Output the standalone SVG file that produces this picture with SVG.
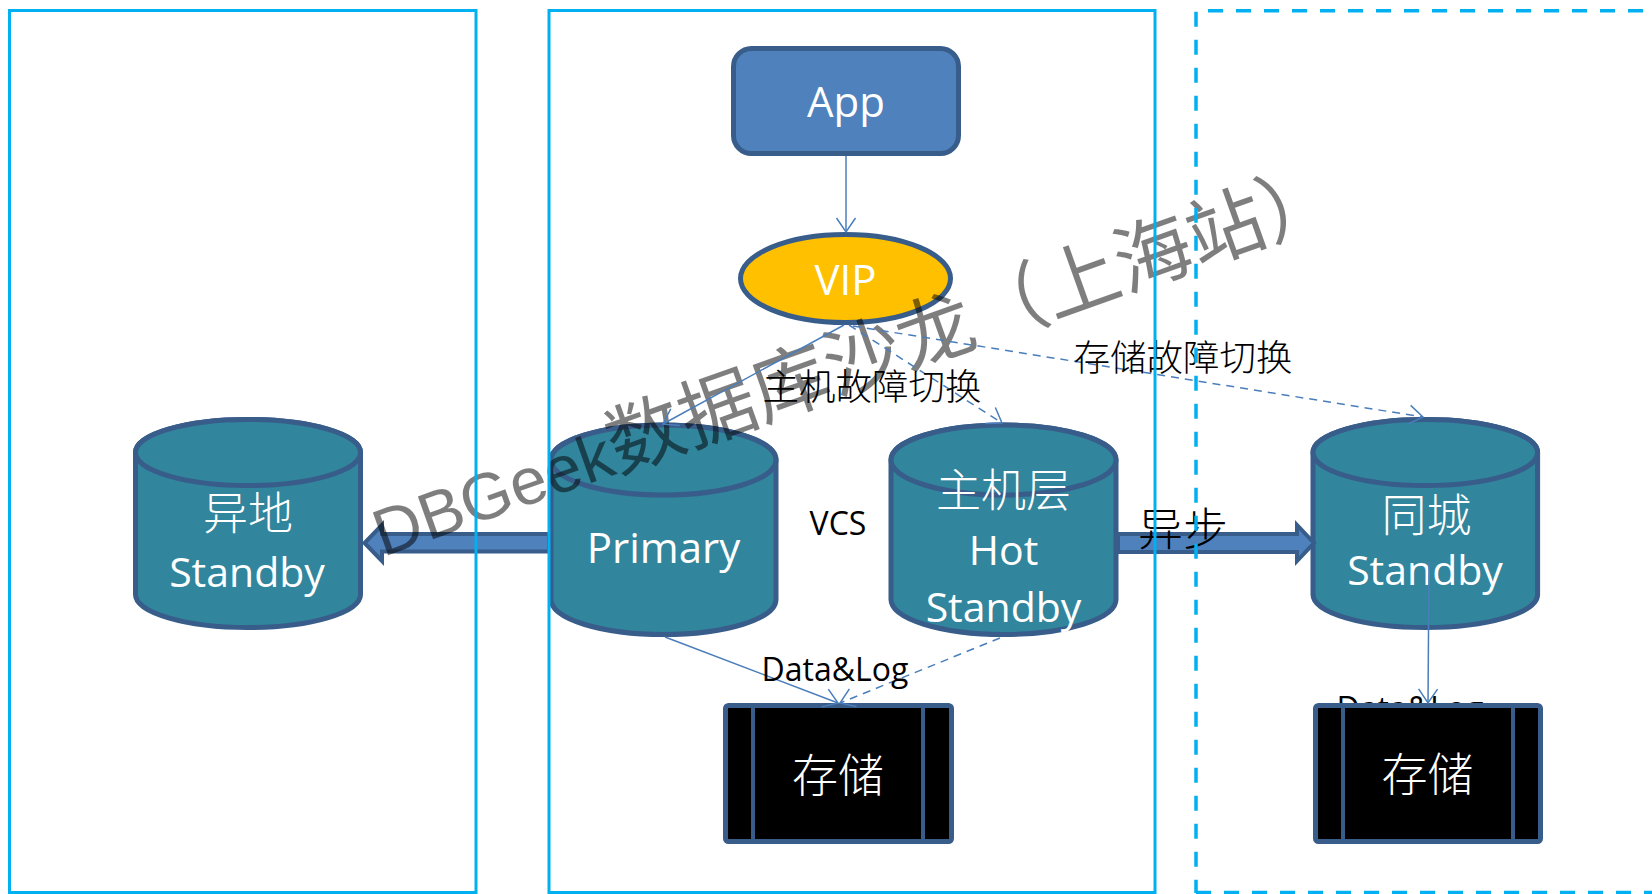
<svg xmlns="http://www.w3.org/2000/svg" width="1652" height="894" viewBox="0 0 1652 894">
  <defs>
    <style>
      .zone { fill: none; stroke: #00B0F0; stroke-width: 3; }
      .zone-dash { fill: none; stroke: #00B0F0; stroke-width: 3.5; stroke-dasharray: 15 13; }
      .cyl { fill: #31859C; stroke: #385D8A; stroke-width: 5; }
      .block { fill: #4F81BD; stroke: #385D8A; stroke-width: 4; stroke-linejoin: miter; }
      .store { fill: #000; stroke: #385D8A; stroke-width: 5; }
      .divider { stroke: #385D8A; stroke-width: 4; }
      .en { font-family: "Open Sans", "Noto Sans", sans-serif; text-anchor: middle; }
      .cjk { font-family: "Noto Sans CJK SC", "Noto Sans", sans-serif; font-weight: 300; text-anchor: middle; }
      .white { fill: #FFFFFF; }
      .black { fill: #000000; }
      .conn { fill: none; stroke: #4A7EBB; stroke-width: 1.5; }
      .dashed { stroke-dasharray: 8 6; }
    </style>
    <marker id="open-arrow" viewBox="-16 -11 18 22" refX="0" refY="0" markerWidth="18" markerHeight="22" markerUnits="userSpaceOnUse" orient="auto">
      <path d="M-14,-9.5 L0,0 L-14,9.5" fill="none" stroke="#4A7EBB" stroke-width="1.5"/>
    </marker>
  </defs>

  <rect width="1652" height="894" fill="#FFFFFF"/>

  <!-- database cylinders -->
  <g id="remote-standby">
    <path class="cyl" d="M135.5,452.5 A112.5,33 0 0 1 360.5,452.5 L360.5,594.5 A112.5,33 0 0 1 135.5,594.5 Z"/>
    <ellipse class="cyl" cx="248" cy="452.5" rx="112.5" ry="33"/>
    <text class="cjk white" x="248" y="530" font-size="45">异地</text>
    <text class="en white" x="247" y="587" font-size="41">Standby</text>
  </g>

  <g id="primary">
    <path class="cyl" d="M551,460 A112.5,35 0 0 1 776,460 L776,599.5 A112.5,35 0 0 1 551,599.5 Z"/>
    <ellipse class="cyl" cx="663.5" cy="460" rx="112.5" ry="35"/>
    <text class="en white" x="663.5" y="563" font-size="42">Primary</text>
  </g>

  <g id="hot-standby">
    <path class="cyl" d="M891,460 A112.5,35 0 0 1 1116,460 L1116,599.5 A112.5,35 0 0 1 891,599.5 Z"/>
    <ellipse class="cyl" cx="1003.5" cy="460" rx="112.5" ry="35"/>
    <text class="cjk white" x="1003.5" y="507" font-size="45">主机层</text>
    <text class="en white" x="1003.5" y="565" font-size="41">Hot</text>
    <text class="en white" x="1003.5" y="622" font-size="41">Standby</text>
  </g>

  <g id="local-standby">
    <path class="cyl" d="M1313,452.5 A112.3,33 0 0 1 1537.6,452.5 L1537.6,594.5 A112.3,33 0 0 1 1313,594.5 Z"/>
    <ellipse class="cyl" cx="1425.3" cy="452.5" rx="112.3" ry="33"/>
    <text class="cjk white" x="1426.5" y="532" font-size="45">同城</text>
    <text class="en white" x="1425" y="585" font-size="41">Standby</text>
  </g>

  <!-- replication block arrows -->
  <g id="async-remote">
    <path class="block" d="M549,534 H382 V525 L364.5,543 L382,561 V551.5 H549 Z"/>
  </g>
  <g id="async-local">
    <path class="block" d="M1118,534 H1297 V525 L1314,543 L1297,561 V552 H1118 Z"/>
  </g>

  <!-- application and virtual IP -->
  <g id="app">
    <rect x="733.5" y="48.5" width="225" height="105" rx="18" fill="#4F81BD" stroke="#385D8A" stroke-width="5"/>
    <text class="en white" x="846" y="117" font-size="42">App</text>
  </g>

  <g id="vip">
    <ellipse cx="845.5" cy="278.5" rx="105" ry="44" fill="#FFC000" stroke="#385D8A" stroke-width="5"/>
    <text class="en white" x="845.5" y="295" font-size="42">VIP</text>
  </g>

  <!-- shared storage arrays -->
  <g id="storage-main">
    <rect class="store" x="725.5" y="705.5" width="226" height="136" rx="3"/>
    <line class="divider" x1="753" y1="706" x2="753" y2="841"/>
    <line class="divider" x1="923" y1="706" x2="923" y2="841"/>
    <text class="cjk white" x="838" y="792" font-size="46">存储</text>
  </g>

  <text class="en black" x="1410" y="720" font-size="32">Data&amp;Log</text>

  <g id="storage-local">
    <rect class="store" x="1315.5" y="705.5" width="225" height="136" rx="3"/>
    <line class="divider" x1="1343" y1="706" x2="1343" y2="841"/>
    <line class="divider" x1="1513" y1="706" x2="1513" y2="841"/>
    <text class="cjk white" x="1427.5" y="791" font-size="46">存储</text>
  </g>

  <!-- watermark -->
  <g id="watermark" opacity="0.5">
    <text transform="translate(383,557) rotate(-19.6)" fill="#000000" font-family="Noto Sans CJK SC, sans-serif" font-size="77"><tspan font-family="Liberation Sans, Arial, sans-serif" font-size="66">DBGeek</tspan>数据库沙龙（上海站）</text>
  </g>

  <!-- connectors -->
  <g id="connectors">
    <path class="conn" d="M846,156 L846,232" marker-end="url(#open-arrow)"/>
    <path class="conn" d="M844,325 L663,424" marker-end="url(#open-arrow)"/>
    <path class="conn dashed" d="M849,325 L1002,423" marker-end="url(#open-arrow)"/>
    <path class="conn dashed" d="M853,326 L1423,417" marker-end="url(#open-arrow)"/>
    <path class="conn" d="M665,637 L838,703" marker-end="url(#open-arrow)"/>
    <path class="conn dashed" d="M1000,638 L840,703" marker-end="url(#open-arrow)"/>
    <path class="conn" d="M1429,562 L1428,703" marker-end="url(#open-arrow)"/>
  </g>

  <!-- connector labels -->
  <g id="labels">
    <text class="cjk black" x="872" y="399.5" font-size="36.5">主机故障切换</text>
    <text class="cjk black" x="1183" y="371" font-size="36.5">存储故障切换</text>
    <text class="en black" x="838" y="535" font-size="32">VCS</text>
    <text class="en black" x="835" y="681" font-size="32">Data&amp;Log</text>
    <text class="cjk black" x="1183" y="546" font-size="45">异步</text>
  </g>

  <!-- site boundaries -->
  <g id="zones">
    <rect class="zone" x="9.5" y="10.5" width="466.5" height="882"/>
    <rect class="zone" x="549" y="10.5" width="606" height="882"/>
    <path class="zone-dash" d="M1208,10.7 H1660"/>
    <path class="zone-dash" d="M1196,11.7 V893"/>
    <path class="zone-dash" d="M1196,892.5 H1660"/>
  </g>
</svg>
